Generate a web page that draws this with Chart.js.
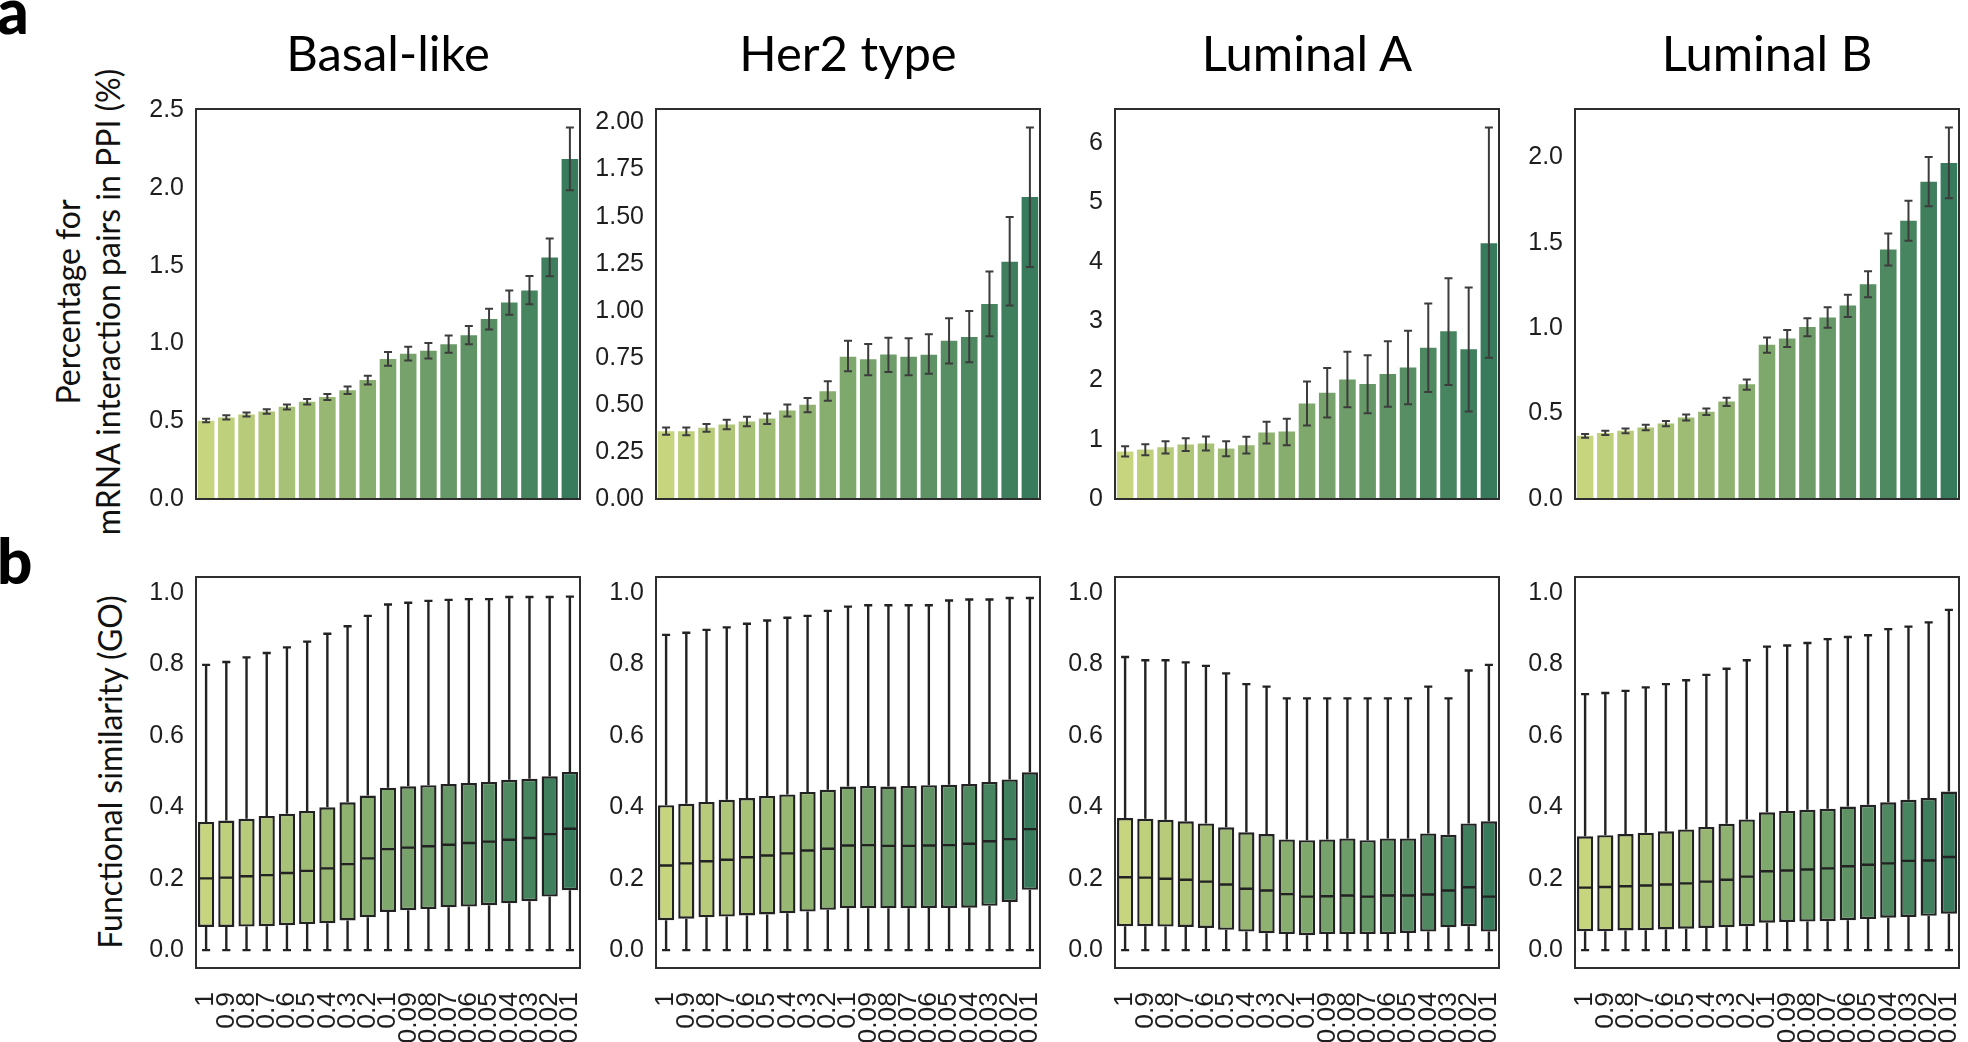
<!DOCTYPE html>
<html>
<head>
<meta charset="utf-8">
<script src="https://cdn.jsdelivr.net/npm/chart.js@4.4.0/dist/chart.umd.min.js"></script>
<style>
  html, body { margin: 0; padding: 0; background: #fff; }
  body { width: 1968px; height: 1042px; position: relative; overflow: hidden; font-family: Lato, 'Noto Sans', sans-serif; }
  canvas { position: absolute; }
  .title { position: absolute; font-size: 49px; line-height: 49px; color: #000; white-space: nowrap; transform: translateX(-50%); }
  .letter { position: absolute; font-size: 62px; line-height: 62px; font-weight: 900; color: #000; }
  .ylab { position: absolute; font-size: 32px; line-height: 40px; color: #111; text-align: center; white-space: nowrap;
          transform: translate(-50%, -50%) rotate(-90deg); }
</style>
</head>
<body>
<div class="letter" style="left:-3px; top:-21px">a</div>
<div class="letter" style="left:-3px; top:529px">b</div>
<div class="ylab" style="left:88px; top:302px">Percentage for<br>mRNA interaction pairs in PPI (%)</div>
<div class="ylab" style="left:110px; top:772px">Functional similarity (GO)</div>

<script>
// ---- categories / ticks ----
const thresholds = ['1', '0.9', '0.8', '0.7', '0.6', '0.5', '0.4', '0.3', '0.2', '0.1',
                    '0.09', '0.08', '0.07', '0.06', '0.05', '0.04', '0.03', '0.02', '0.01'];
const subtypes = ['Basal-like', 'Her2 type', 'Luminal A', 'Luminal B'];

const pctTicks = [
  [0, 0.5, 1, 1.5, 2, 2.5],
  [0, 0.25, 0.5, 0.75, 1, 1.25, 1.5, 1.75, 2],
  [0, 1, 2, 3, 4, 5, 6],
  [0, 0.5, 1, 1.5, 2]
];
const pctTickDecimals = [1, 2, 0, 1];
const simTicks = [0, 0.2, 0.4, 0.6, 0.8, 1.0];

// ---- panel a: percentage in PPI (mean, CI low, CI high) ----
const basalPct = [0.503, 0.525, 0.544, 0.563, 0.593, 0.626, 0.656, 0.700, 0.765, 0.900, 0.934, 0.953, 0.996, 1.054, 1.157, 1.264, 1.341, 1.553, 2.187];
const basalLo  = [0.493, 0.512, 0.531, 0.548, 0.576, 0.608, 0.636, 0.675, 0.737, 0.857, 0.891, 0.904, 0.940, 0.996, 1.090, 1.185, 1.253, 1.433, 1.986];
const basalHi  = [0.516, 0.538, 0.557, 0.578, 0.608, 0.643, 0.675, 0.724, 0.793, 0.945, 0.979, 1.003, 1.052, 1.112, 1.223, 1.341, 1.435, 1.675, 2.389];

const her2Pct = [0.360, 0.360, 0.378, 0.396, 0.412, 0.428, 0.470, 0.500, 0.573, 0.755, 0.742, 0.767, 0.755, 0.766, 0.841, 0.861, 1.036, 1.260, 1.604];
const her2Lo  = [0.341, 0.339, 0.357, 0.371, 0.387, 0.399, 0.438, 0.461, 0.522, 0.678, 0.657, 0.674, 0.658, 0.665, 0.720, 0.726, 0.864, 1.028, 1.232];
const her2Hi  = [0.380, 0.380, 0.399, 0.421, 0.437, 0.454, 0.502, 0.536, 0.625, 0.841, 0.823, 0.857, 0.854, 0.875, 0.960, 0.999, 1.209, 1.498, 1.973];

const lumAPct = [0.800, 0.834, 0.873, 0.918, 0.935, 0.851, 0.907, 1.121, 1.138, 1.611, 1.792, 2.017, 1.938, 2.107, 2.220, 2.552, 2.828, 2.524, 4.315];
const lumALo  = [0.715, 0.738, 0.766, 0.811, 0.817, 0.721, 0.766, 0.935, 0.907, 1.239, 1.375, 1.549, 1.448, 1.555, 1.600, 1.803, 1.921, 1.476, 2.383];
const lumAHi  = [0.890, 0.924, 0.975, 1.025, 1.054, 0.975, 1.048, 1.301, 1.352, 1.983, 2.208, 2.485, 2.423, 2.659, 2.839, 3.296, 3.724, 3.566, 6.265];

const lumBPct = [0.370, 0.387, 0.399, 0.418, 0.442, 0.477, 0.510, 0.571, 0.671, 0.903, 0.940, 1.007, 1.062, 1.132, 1.257, 1.460, 1.629, 1.857, 1.967];
const lumBLo  = [0.358, 0.375, 0.385, 0.403, 0.426, 0.459, 0.491, 0.545, 0.639, 0.856, 0.890, 0.952, 1.003, 1.065, 1.181, 1.367, 1.511, 1.713, 1.761];
const lumBHi  = [0.381, 0.399, 0.413, 0.434, 0.457, 0.495, 0.530, 0.592, 0.700, 0.946, 0.989, 1.058, 1.122, 1.196, 1.333, 1.554, 1.746, 2.002, 2.174];

// ---- panel b: functional similarity box stats ----
const whiskerMin = [0, 0, 0, 0, 0, 0, 0, 0, 0, 0, 0, 0, 0, 0, 0, 0, 0, 0, 0];

const basalMax = [0.799, 0.807, 0.820, 0.832, 0.848, 0.864, 0.886, 0.907, 0.936, 0.968, 0.973, 0.978, 0.981, 0.983, 0.983, 0.989, 0.989, 0.989, 0.990];
const basalQ3  = [0.359, 0.363, 0.368, 0.376, 0.382, 0.390, 0.400, 0.414, 0.433, 0.455, 0.459, 0.462, 0.465, 0.468, 0.471, 0.477, 0.480, 0.487, 0.499];
const basalMed = [0.201, 0.203, 0.207, 0.210, 0.216, 0.222, 0.229, 0.241, 0.257, 0.283, 0.287, 0.291, 0.295, 0.300, 0.304, 0.309, 0.314, 0.325, 0.340];
const basalQ1  = [0.065, 0.065, 0.066, 0.067, 0.070, 0.073, 0.075, 0.083, 0.092, 0.107, 0.112, 0.115, 0.120, 0.122, 0.126, 0.131, 0.137, 0.150, 0.168];

const her2Max = [0.883, 0.889, 0.897, 0.904, 0.914, 0.923, 0.931, 0.936, 0.950, 0.962, 0.966, 0.966, 0.966, 0.966, 0.979, 0.982, 0.982, 0.986, 0.986];
const her2Q3  = [0.406, 0.410, 0.415, 0.421, 0.426, 0.432, 0.436, 0.443, 0.449, 0.458, 0.460, 0.458, 0.460, 0.462, 0.463, 0.465, 0.471, 0.478, 0.498];
const her2Med = [0.237, 0.243, 0.249, 0.253, 0.260, 0.265, 0.271, 0.279, 0.284, 0.293, 0.294, 0.292, 0.292, 0.293, 0.294, 0.298, 0.305, 0.311, 0.339];
const her2Q1  = [0.084, 0.088, 0.092, 0.094, 0.097, 0.100, 0.103, 0.108, 0.113, 0.117, 0.117, 0.117, 0.117, 0.118, 0.118, 0.119, 0.124, 0.135, 0.169];

const lumAMax = [0.821, 0.812, 0.812, 0.806, 0.796, 0.775, 0.745, 0.738, 0.705, 0.705, 0.705, 0.705, 0.705, 0.705, 0.705, 0.738, 0.705, 0.783, 0.799];
const lumAQ3  = [0.370, 0.368, 0.365, 0.361, 0.355, 0.344, 0.330, 0.325, 0.310, 0.308, 0.310, 0.313, 0.308, 0.313, 0.313, 0.327, 0.323, 0.355, 0.361];
const lumAMed = [0.204, 0.203, 0.200, 0.197, 0.192, 0.184, 0.172, 0.167, 0.157, 0.150, 0.151, 0.153, 0.150, 0.153, 0.153, 0.156, 0.167, 0.176, 0.150];
const lumAQ1  = [0.067, 0.067, 0.066, 0.065, 0.062, 0.057, 0.052, 0.047, 0.045, 0.042, 0.045, 0.045, 0.045, 0.045, 0.048, 0.052, 0.064, 0.067, 0.052];

const lumBMax = [0.717, 0.720, 0.726, 0.736, 0.745, 0.756, 0.771, 0.788, 0.812, 0.850, 0.853, 0.860, 0.871, 0.877, 0.882, 0.899, 0.906, 0.918, 0.953];
const lumBQ3  = [0.319, 0.322, 0.325, 0.329, 0.333, 0.338, 0.345, 0.354, 0.366, 0.386, 0.390, 0.393, 0.396, 0.402, 0.407, 0.414, 0.421, 0.426, 0.444];
const lumBMed = [0.175, 0.177, 0.179, 0.181, 0.184, 0.187, 0.192, 0.197, 0.206, 0.221, 0.223, 0.226, 0.229, 0.235, 0.239, 0.243, 0.250, 0.251, 0.261];
const lumBQ1  = [0.053, 0.053, 0.055, 0.056, 0.058, 0.060, 0.062, 0.064, 0.067, 0.077, 0.079, 0.080, 0.081, 0.084, 0.087, 0.091, 0.093, 0.096, 0.102];

const pctMean = [basalPct, her2Pct, lumAPct, lumBPct];
const pctLo = [basalLo, her2Lo, lumALo, lumBLo];
const pctHi = [basalHi, her2Hi, lumAHi, lumBHi];
const simMax = [basalMax, her2Max, lumAMax, lumBMax];
const simQ3 = [basalQ3, her2Q3, lumAQ3, lumBQ3];
const simMed = [basalMed, her2Med, lumAMed, lumBMed];
const simQ1 = [basalQ1, her2Q1, lumAQ1, lumBQ1];

// ---- layout ----
const PANEL_LEFT = [196, 656, 1115, 1575];
const PANEL_W = 384;
const ROW_TOP = [109, 577];
const ROW_H = [390, 391];
const YAXIS_W = 80;
const PAD = 16;
const XAXIS_H = 80;
const EDGE = '#222';
const FAMILY = "'Liberation Sans', Arial, sans-serif";
const Y_TICK_FONT = { family: FAMILY, size: 25 };
const X_TICK_FONT = { family: FAMILY, size: 26.5 };

// yellow-green -> dark green, like the seaborn palette
function palette(n) {
  const a = [199, 213, 126], b = [55, 122, 92];
  const out = [];
  for (let i = 0; i < n; i++) {
    const t = i / (n - 1);
    out.push('rgb(' + a.map((v, k) => Math.round(v + (b[k] - v) * t)).join(',') + ')');
  }
  return out;
}
const colors = palette(thresholds.length);

Chart.defaults.animation = false;
Chart.defaults.font.family = FAMILY;

const frame = {
  id: 'frame',
  afterDraw(chart) {
    const { ctx, chartArea: a } = chart;
    ctx.save();
    ctx.strokeStyle = '#2e2e2e';
    ctx.lineWidth = 2;
    ctx.strokeRect(a.left, a.top, a.right - a.left, a.bottom - a.top);
    ctx.restore();
  }
};

const errorBars = {
  id: 'errorBars',
  afterDatasetsDraw(chart) {
    const ds = chart.data.datasets[0];
    const meta = chart.getDatasetMeta(0);
    const y = chart.scales.y;
    const ctx = chart.ctx;
    ctx.save();
    ctx.strokeStyle = '#3c3c3c';
    ctx.lineWidth = 2;
    meta.data.forEach((bar, k) => {
      const yl = y.getPixelForValue(ds.errLo[k]);
      const yh = y.getPixelForValue(ds.errHi[k]);
      ctx.beginPath();
      ctx.moveTo(bar.x, yl); ctx.lineTo(bar.x, yh);
      ctx.moveTo(bar.x - 4, yl); ctx.lineTo(bar.x + 4, yl);
      ctx.moveTo(bar.x - 4, yh); ctx.lineTo(bar.x + 4, yh);
      ctx.stroke();
    });
    ctx.restore();
  }
};

const boxParts = {
  id: 'boxParts',
  afterDatasetsDraw(chart) {
    const ds = chart.data.datasets[0];
    const meta = chart.getDatasetMeta(0);
    const y = chart.scales.y;
    const ctx = chart.ctx;
    ctx.save();
    ctx.strokeStyle = EDGE;
    ctx.lineWidth = 2.4;
    meta.data.forEach((bar, k) => {
      const half = bar.width / 2, cap = half / 2;
      const yMax = y.getPixelForValue(ds.wMax[k]);
      const yMin = y.getPixelForValue(ds.wMin[k]);
      const yQ3 = y.getPixelForValue(ds.q3[k]);
      const yQ1 = y.getPixelForValue(ds.q1[k]);
      const yMed = y.getPixelForValue(ds.med[k]);
      ctx.beginPath();
      ctx.moveTo(bar.x, yQ3); ctx.lineTo(bar.x, yMax);
      ctx.moveTo(bar.x - cap, yMax); ctx.lineTo(bar.x + cap, yMax);
      ctx.moveTo(bar.x, yQ1); ctx.lineTo(bar.x, yMin);
      ctx.moveTo(bar.x - cap, yMin); ctx.lineTo(bar.x + cap, yMin);
      ctx.moveTo(bar.x - half + 1, yMed); ctx.lineTo(bar.x + half - 1, yMed);
      ctx.stroke();
    });
    ctx.restore();
  }
};

function makeCanvas(col, row) {
  const c = document.createElement('canvas');
  const w = YAXIS_W + PANEL_W + PAD;
  const h = PAD + ROW_H[row] + (row ? XAXIS_H : PAD);
  c.width = w; c.height = h;
  c.style.left = (PANEL_LEFT[col] - YAXIS_W) + 'px';
  c.style.top = (ROW_TOP[row] - PAD) + 'px';
  c.style.width = w + 'px'; c.style.height = h + 'px';
  document.body.appendChild(c);
  return c;
}

function yAxis(ticks, decimals, extra) {
  return Object.assign({
    grid: { display: false, drawTicks: false },
    border: { display: false },
    ticks: { font: Y_TICK_FONT, color: '#1e1e1e', padding: 12, callback: v => Number(v).toFixed(decimals) },
    afterBuildTicks: s => { s.ticks = ticks.map(v => ({ value: v })); },
    afterFit: s => { s.width = YAXIS_W; s.paddingTop = 0; s.paddingBottom = 0; }
  }, extra);
}

subtypes.forEach((name, i) => {
  const t = document.createElement('div');
  t.className = 'title';
  t.textContent = name;
  t.style.left = (PANEL_LEFT[i] + PANEL_W / 2) + 'px';
  t.style.top = '28px';
  document.body.appendChild(t);

  // panel a: bars with CI
  new Chart(makeCanvas(i, 0), {
    type: 'bar',
    data: {
      labels: thresholds,
      datasets: [{
        data: pctMean[i],
        errLo: pctLo[i],
        errHi: pctHi[i],
        backgroundColor: colors,
        borderWidth: 0,
        barPercentage: 0.82,
        categoryPercentage: 1
      }]
    },
    options: {
      responsive: false,
      layout: { padding: { left: 0, top: PAD, right: PAD, bottom: PAD } },
      plugins: { legend: { display: false }, tooltip: { enabled: false } },
      scales: {
        x: { display: false, offset: true },
        y: yAxis(pctTicks[i], pctTickDecimals[i], { min: 0, max: Math.max(...pctHi[i]) * 1.05 })
      }
    },
    plugins: [errorBars, frame]
  });

  // panel b: box plots
  new Chart(makeCanvas(i, 1), {
    type: 'bar',
    data: {
      labels: thresholds,
      datasets: [{
        data: simQ1[i].map((q, k) => [q, simQ3[i][k]]),
        q1: simQ1[i], q3: simQ3[i], med: simMed[i], wMax: simMax[i], wMin: whiskerMin,
        backgroundColor: colors,
        borderColor: EDGE,
        borderWidth: 2.4,
        borderSkipped: false,
        barPercentage: 0.8,
        categoryPercentage: 1
      }]
    },
    options: {
      responsive: false,
      layout: { padding: { left: 0, top: PAD, right: PAD, bottom: 0 } },
      plugins: { legend: { display: false }, tooltip: { enabled: false } },
      scales: {
        x: {
          offset: true,
          grid: { display: false, drawTicks: true, tickLength: 22 },
          border: { display: false },
          ticks: { font: X_TICK_FONT, color: '#1e1e1e', padding: 2, autoSkip: false, minRotation: 90, maxRotation: 90 },
          afterFit: s => { s.height = XAXIS_H; s.paddingLeft = 0; s.paddingRight = 0; }
        },
        y: yAxis(simTicks, 1, { min: -0.05, max: 1.045 })
      }
    },
    plugins: [boxParts, frame]
  });
});
</script>
</body>
</html>
